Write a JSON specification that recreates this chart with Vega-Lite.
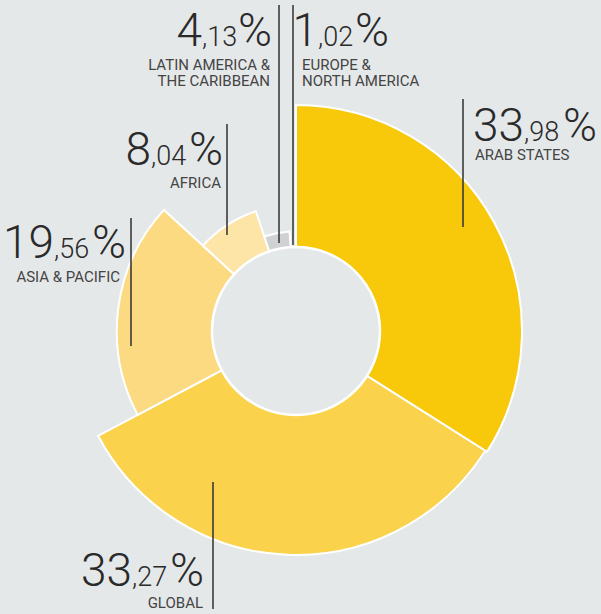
{
  "$schema": "https://vega.github.io/schema/vega-lite/v6.json",
  "width": 592,
  "height": 566,
  "autosize": {"type": "none"},
  "padding": {"left": 0, "top": 48, "right": 9, "bottom": 0},
  "background": "#e5e8e9",
  "config": {"view": {"stroke": null}},
  "datasets": {
    "shares": [
      {"region": "Arab States", "pct": 33.98},
      {"region": "Global", "pct": 33.27},
      {"region": "Asia & Pacific", "pct": 19.56},
      {"region": "Africa", "pct": 8.04},
      {"region": "Latin America & the Caribbean", "pct": 4.13},
      {"region": "Europe & North America", "pct": 1.02}
    ],
    "labels": [
      {"region": "Arab States", "whole": "33", "dec": ",98", "name": "ARAB STATES", "commaX": 524, "pctX": 563, "numY": 141, "nameX": 475, "nameY": 160, "lineX": 463, "lineTop": 99, "lineEnd": 227},
      {"region": "Global", "whole": "33", "dec": ",27", "name": "GLOBAL", "commaX": 132, "pctX": 170, "numY": 586, "nameX": 203, "nameY": 608, "lineX": 213, "lineTop": 482, "lineEnd": 609},
      {"region": "Asia & Pacific", "whole": "19", "dec": ",56", "name": "ASIA & PACIFIC", "commaX": 54, "pctX": 92, "numY": 258, "nameX": 120, "nameY": 282, "lineX": 131, "lineTop": 218, "lineEnd": 346},
      {"region": "Africa", "whole": "8", "dec": ",04", "name": "AFRICA", "commaX": 151, "pctX": 189, "numY": 165, "nameX": 221, "nameY": 188, "lineX": 227, "lineTop": 124, "lineEnd": 235},
      {"region": "Latin America & the Caribbean", "whole": "4", "dec": ",13", "name": "LATIN AMERICA &\nTHE CARIBBEAN", "commaX": 202, "pctX": 238, "numY": 46, "nameX": 270, "nameY": 70, "lineX": 279, "lineTop": 5, "lineEnd": 243},
      {"region": "Europe & North America", "whole": "1", "dec": ",02", "name": "EUROPE &\nNORTH AMERICA", "commaX": 318, "pctX": 355, "numY": 46, "nameX": 302, "nameY": 70, "lineX": 293, "lineTop": 5, "lineEnd": 245}
    ]
  },
  "layer": [
    {
      "data": {"name": "shares"},
      "mark": {"type": "arc", "stroke": "white", "strokeWidth": 2},
      "encoding": {
        "theta": {"field": "pct", "type": "quantitative", "stack": true},
        "radius": {"field": "pct", "type": "quantitative", "scale": {"type": "sqrt", "zero": true, "range": [32, 226]}},
        "color": {
          "field": "region", "type": "nominal", "legend": null,
          "scale": {
            "domain": ["Arab States", "Global", "Asia & Pacific", "Africa", "Latin America & the Caribbean", "Europe & North America"],
            "range": ["#f8c80a", "#fad24b", "#fcda82", "#fde5a8", "#d0d1d3", "#c2c4c6"]
          }
        },
        "order": {"field": "pct", "type": "quantitative", "sort": "descending"}
      }
    },
    {
      "data": {"values": [{}]},
      "mark": {"type": "arc", "theta": 0, "theta2": 6.2832, "radius": 84, "fill": "#e5e8e9", "stroke": "white", "strokeWidth": 2.5},
      "encoding": {}
    },
    {
      "data": {"name": "labels"},
      "mark": {"type": "rule", "color": "#3a3a3a", "strokeWidth": 1.6},
      "encoding": {
        "x": {"field": "lineX", "type": "quantitative", "axis": null, "scale": {"domain": [0, 592], "nice": false, "zero": false}},
        "y": {"field": "lineTop", "type": "quantitative", "axis": null, "scale": {"domain": [48, 614], "nice": false, "zero": false, "reverse": true}},
        "y2": {"field": "lineEnd"}
      }
    },
    {
      "data": {"name": "labels"},
      "mark": {"type": "text", "align": "right", "baseline": "alphabetic", "font": "Roboto", "fontWeight": 300, "fontSize": 46, "color": "#2a2a2a"},
      "encoding": {
        "x": {"field": "commaX", "type": "quantitative", "axis": null},
        "y": {"field": "numY", "type": "quantitative", "axis": null},
        "text": {"field": "whole"}
      }
    },
    {
      "data": {"name": "labels"},
      "mark": {"type": "text", "align": "left", "baseline": "alphabetic", "font": "Roboto", "fontWeight": 300, "fontSize": 27, "color": "#2a2a2a"},
      "encoding": {
        "x": {"field": "commaX", "type": "quantitative", "axis": null},
        "y": {"field": "numY", "type": "quantitative", "axis": null},
        "text": {"field": "dec"}
      }
    },
    {
      "data": {"name": "labels"},
      "mark": {"type": "text", "align": "left", "baseline": "alphabetic", "font": "Roboto", "fontWeight": 300, "fontSize": 46, "color": "#2a2a2a"},
      "encoding": {
        "x": {"field": "pctX", "type": "quantitative", "axis": null},
        "y": {"field": "numY", "type": "quantitative", "axis": null},
        "text": {"value": "%"}
      }
    },
    {
      "data": {"name": "labels"},
      "transform": [{"filter": {"field": "region", "oneOf": ["Arab States", "Europe & North America"]}}],
      "mark": {"type": "text", "align": "left", "baseline": "alphabetic", "font": "Roboto", "fontSize": 15, "lineBreak": "\n", "lineHeight": 16, "color": "#444444"},
      "encoding": {
        "x": {"field": "nameX", "type": "quantitative", "axis": null},
        "y": {"field": "nameY", "type": "quantitative", "axis": null},
        "text": {"field": "name"}
      }
    },
    {
      "data": {"name": "labels"},
      "transform": [{"filter": {"not": {"field": "region", "oneOf": ["Arab States", "Europe & North America"]}}}],
      "mark": {"type": "text", "align": "right", "baseline": "alphabetic", "font": "Roboto", "fontSize": 15, "lineBreak": "\n", "lineHeight": 16, "color": "#444444"},
      "encoding": {
        "x": {"field": "nameX", "type": "quantitative", "axis": null},
        "y": {"field": "nameY", "type": "quantitative", "axis": null},
        "text": {"field": "name"}
      }
    }
  ]
}
